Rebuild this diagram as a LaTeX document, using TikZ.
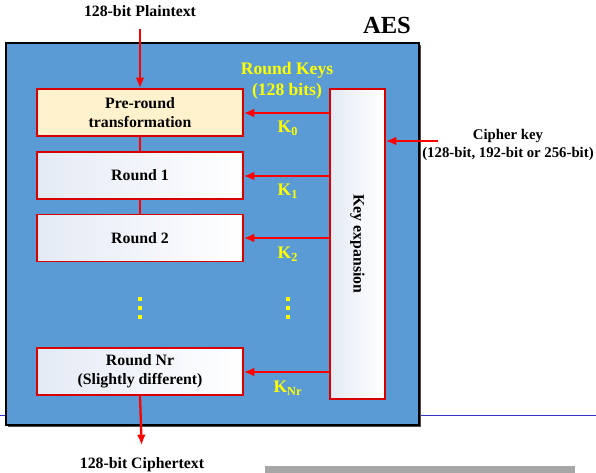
\documentclass[tikz,border=0pt]{standalone}
\usepackage{fontspec}
\setmainfont{Liberation Serif}
\usepackage{tikz}
\usetikzlibrary{arrows.meta,positioning}
\usepackage{xcolor}
\definecolor{aesblue}{RGB}{91,155,213}
\definecolor{preyellow}{RGB}{255,242,204}
\definecolor{boxtint}{RGB}{228,234,245}
\definecolor{keyyellow}{RGB}{255,255,0}

\begin{document}
\begin{tikzpicture}[
            x=0.02cm, y=-0.02cm,
            font=\bfseries\fontsize{9}{11}\selectfont,
            roundbox/.style={rectangle, draw=red!85!black, line width=0.9pt, align=center, minimum width=4.12cm, minimum height=0.94cm, inner sep=2pt, left color=boxtint, right color=white},
            prebox/.style={roundbox, left color=preyellow, right color=preyellow},
            keylabel/.style={text=keyyellow, font=\bfseries\fontsize{10}{12}\selectfont},
            plainlabel/.style={align=center, inner sep=1pt},
            arrow/.style={-{Latex[length=6pt,width=5pt]}, red, line width=1.3pt},
            link/.style={red, line width=1.3pt},
            dotbox/.style={fill=keyyellow}
        ]
            \useasboundingbox (0,0) rectangle (596,473);
            \draw[blue!60!gray, line width=0.5pt] (0,415) -- (596,415);
            \fill[gray!70] (265,466) rectangle (575,473);

            % --- AES ---
            \fill[black!70] (8,45) rectangle (421,427);
            \node[rectangle, draw=black, line width=1.2pt, fill=aesblue, minimum width=8.26cm, minimum height=7.64cm, anchor=north west] (aes) at (5,42) {};
            \node[font=\bfseries\fontsize{14}{16}\selectfont] (aestitle) at (387,25) {AES};

            % --- ROUNDS ---
            \node[prebox] (pre) at (140,112.5) {Pre-round\\transformation};
            \node[roundbox] (r1) at (140,175.5) {Round 1};
            \node[roundbox] (r2) at (140,238) {Round 2};
            \node[roundbox] (rnr) at (140,371.5) {Round Nr\\(Slightly different)};

            % --- KEY EXPANSION ---
            \node[rectangle, draw=red!85!black, line width=0.9pt, minimum width=1.1cm, minimum height=6.2cm, left color=boxtint, right color=white] (keyexp) at (357.5,244) {};
            \node[rotate=-90] (keytext) at (keyexp.center) {Key expansion};
            \node[keylabel, align=center] (rkeys) at (287,81) {Round Keys\\(128 bits)};
            \node[keylabel] (k0) at (288,128) {K\textsubscript{0}};
            \node[keylabel] (k1) at (288,191) {K\textsubscript{1}};
            \node[keylabel] (k2) at (288,254) {K\textsubscript{2}};
            \node[keylabel] (knr) at (288,388) {K\textsubscript{Nr}};

            % --- ENTRADAS / SAIDAS ---
            \node[plainlabel] (plain) at (140,11) {128-bit Plaintext};
            \node[plainlabel, font=\bfseries\fontsize{8.4}{10.5}\selectfont] (cipher) at (508,145) {Cipher key\\(128-bit, 192-bit or 256-bit)};
            \coordinate (cin) at (438,141);
            \node[plainlabel] (ciphertext) at (142,465) {128-bit Ciphertext};

            % --- LIGACOES ---
            \draw[arrow, shorten <=6pt] (plain.south) -- (pre.north);
            \draw[link] (pre.south) -- (r1.north);
            \draw[link] (r1.south) -- (r2.north);
            \draw[arrow, shorten >=6pt] (rnr.south) -- (ciphertext.north);
            \draw[arrow] (cin) -- (keyexp.east |- cin);
            \foreach \target/\ypos in {pre/113, r1/176, r2/238, rnr/372}
                \draw[arrow] (keyexp.west |- 0,\ypos) -- (\target.east |- 0,\ypos);
            \foreach \xpos in {140, 288}
                \foreach \ypos in {299, 308, 317}
                    \fill[dotbox] (\xpos-2,\ypos-2) rectangle (\xpos+2,\ypos+2);

        \end{tikzpicture}
\end{document}
